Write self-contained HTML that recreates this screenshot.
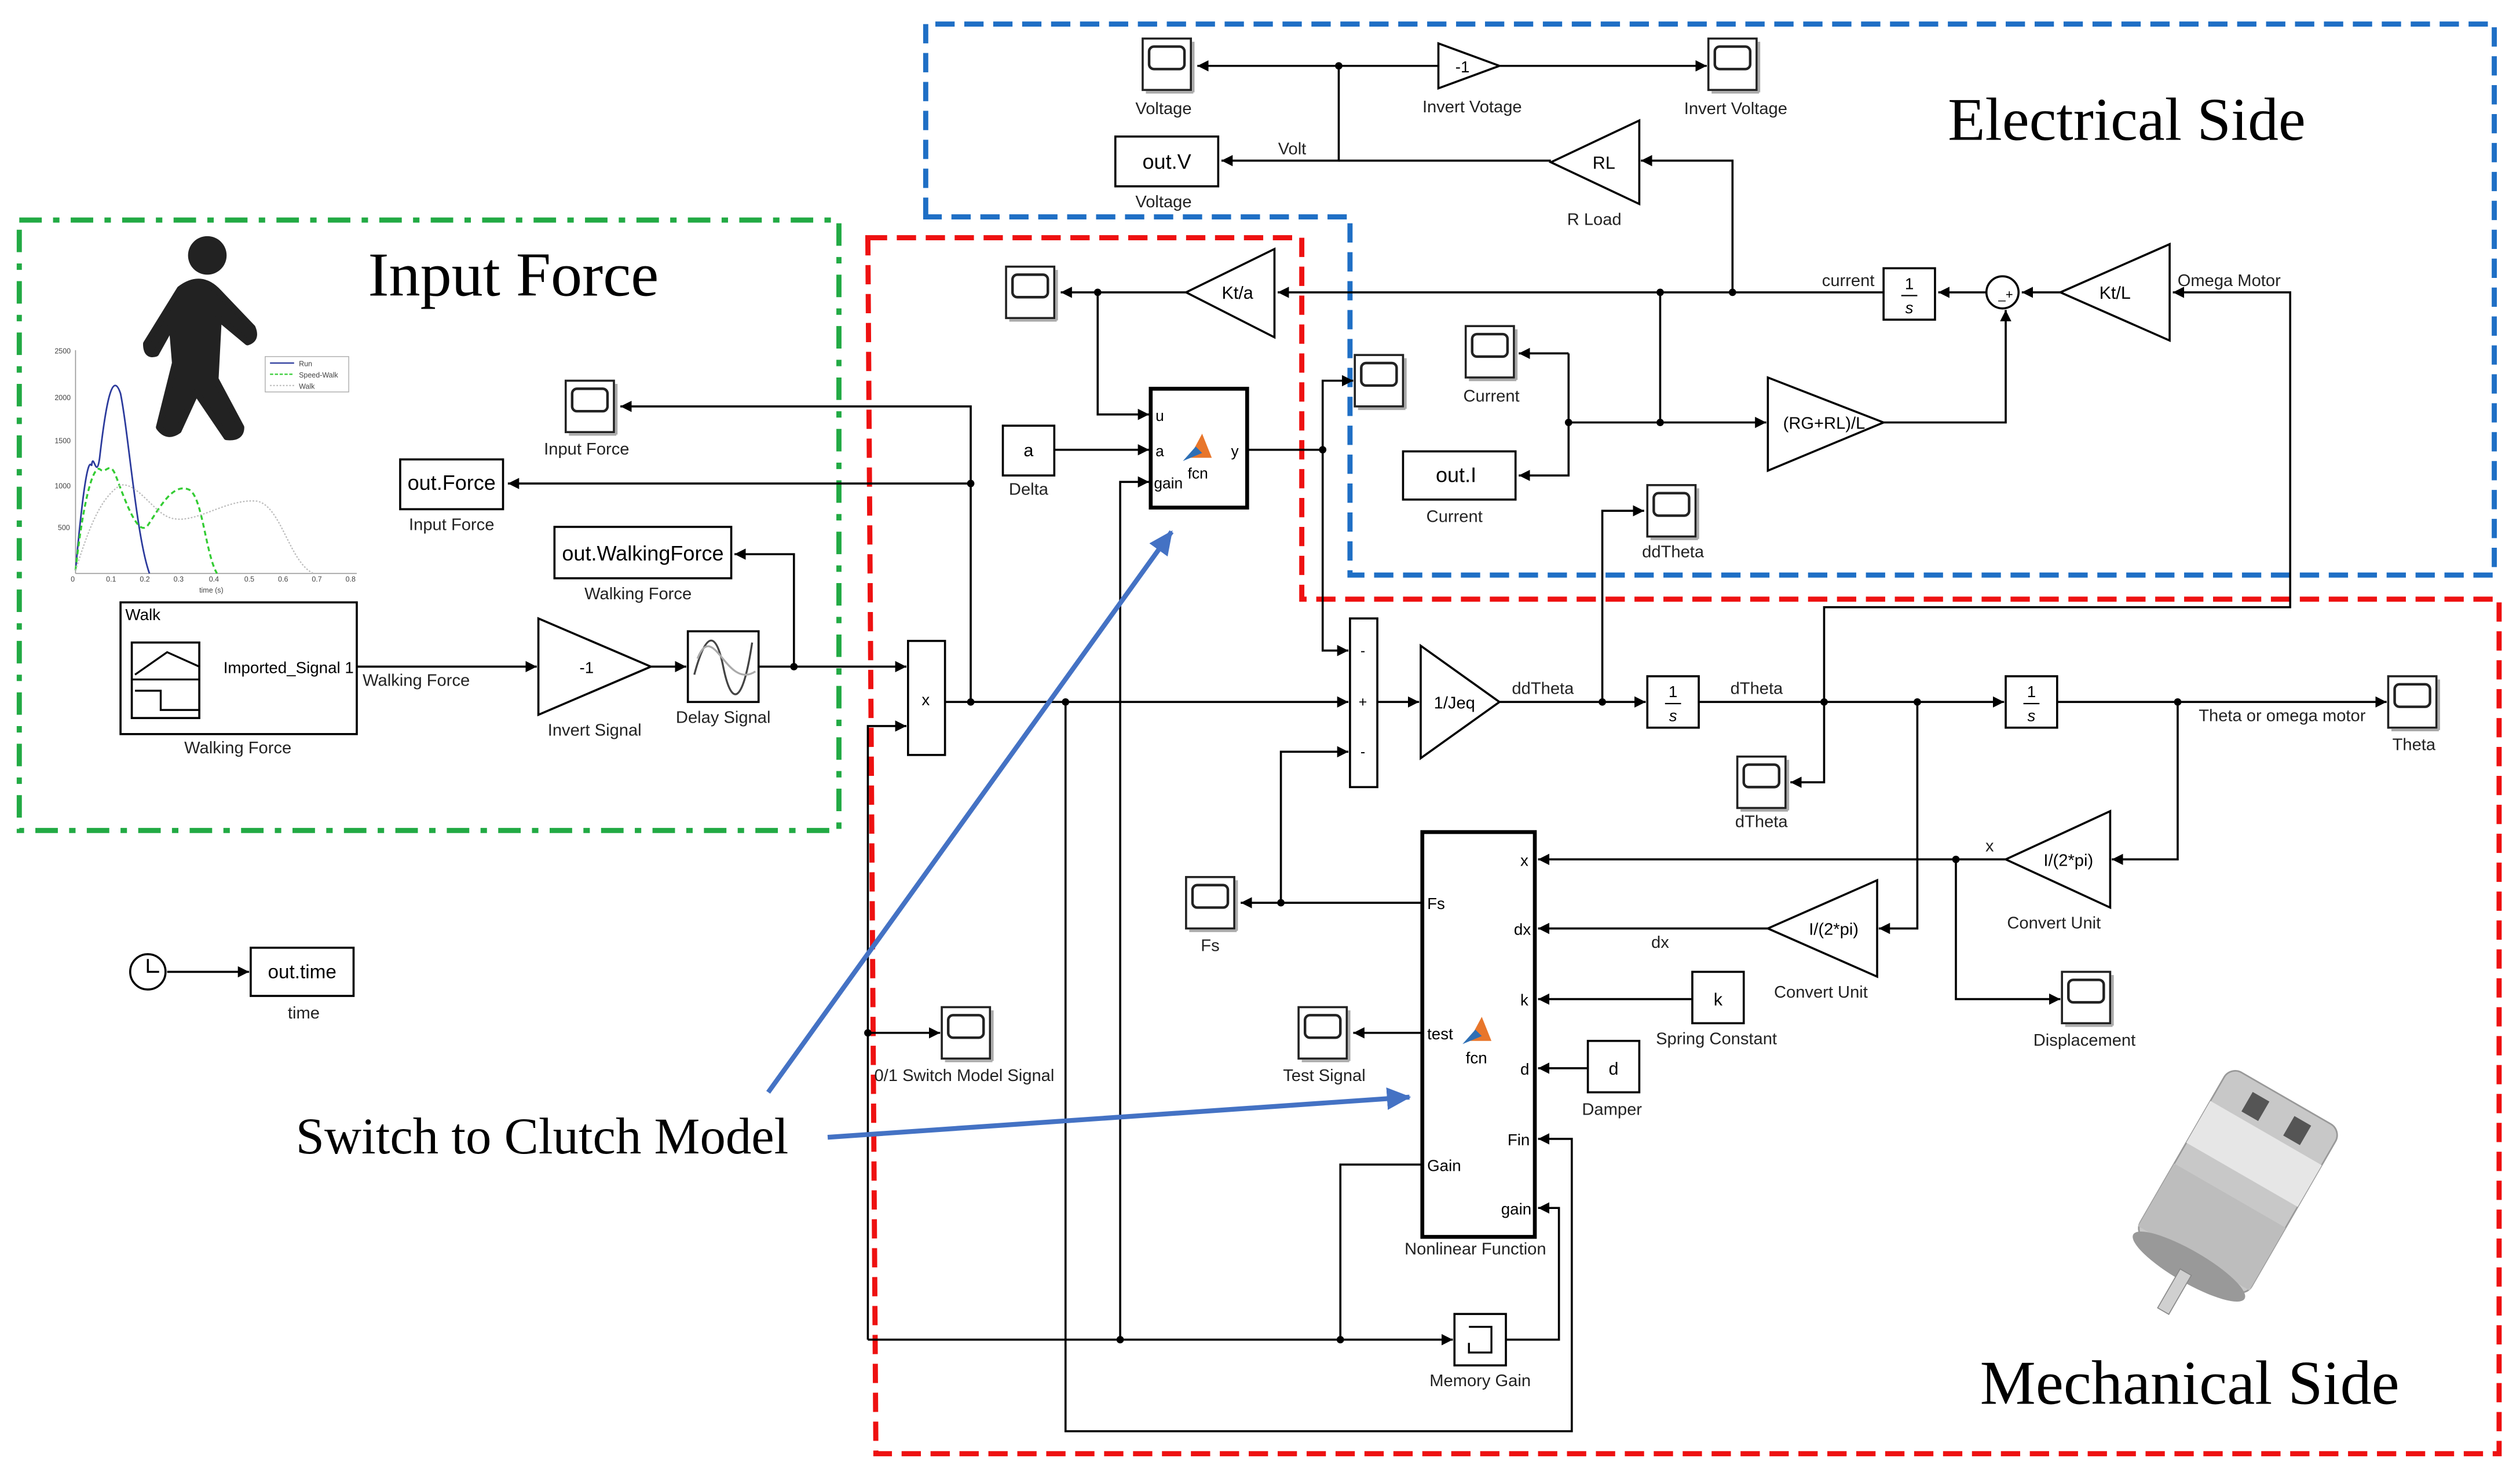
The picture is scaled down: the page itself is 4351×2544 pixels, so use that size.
<!DOCTYPE html>
<html><head><meta charset="utf-8"><style>html,body{margin:0;padding:0;background:#fff}svg{display:block}</style></head><body>
<svg width="4351" height="2544" viewBox="0 0 1568 917" preserveAspectRatio="none" xmlns="http://www.w3.org/2000/svg" font-family="Liberation Sans, sans-serif">
<defs>
<marker id="a" markerUnits="userSpaceOnUse" markerWidth="8" markerHeight="8" refX="7" refY="4" orient="auto"><path d="M0,0.5 L7,4 L0,7.5z" fill="#000"/></marker>
<marker id="b" markerUnits="userSpaceOnUse" markerWidth="16" markerHeight="14" refX="14" refY="7" orient="auto"><path d="M0,0 L15,7 L0,14z" fill="#4472c4"/></marker>
<g id="sc"><rect x="0" y="0" width="30" height="32" fill="#fff" stroke="#222" stroke-width="1.3"/><rect x="4" y="5" width="22" height="14" rx="3" fill="#fff" stroke="#222" stroke-width="1.6"/><line x1="2" y1="33.5" x2="31.5" y2="33.5" stroke="#aaa" stroke-width="1.5"/><line x1="31.5" y1="2" x2="31.5" y2="33.5" stroke="#aaa" stroke-width="1.5"/></g>
</defs>
<rect width="1568" height="917" fill="#fff"/>

<path d="M576,135 V15 H1552 V358 H840 V135 Z" fill="none" stroke="#1f6fc5" stroke-width="3.2" stroke-dasharray="12,6"/>
<path d="M540,148 H810 V373 H1555 V905 H545 Z" fill="none" stroke="#ee1111" stroke-width="3.2" stroke-dasharray="12,6"/>
<rect x="12" y="137" width="510" height="380" fill="none" stroke="#22aa44" stroke-width="3.2" stroke-dasharray="14,7,4,7"/>

<g font-family="Liberation Serif, serif" fill="#000">
<text x="1212" y="87" font-size="38">Electrical Side</text>
<text x="229" y="184" font-size="39">Input Force</text>
<text x="1232" y="874" font-size="39">Mechanical Side</text>
<text x="184" y="718" font-size="32">Switch to Clutch Model</text>
</g>

<g fill="none" stroke="#000" stroke-width="1.3">
<line x1="895" y1="41" x2="745" y2="41" marker-end="url(#a)"/>
<line x1="933" y1="41" x2="1062" y2="41" marker-end="url(#a)"/>
<polyline points="833,41 833,100 760,100" marker-end="url(#a)"/>
<line x1="965" y1="100" x2="833" y2="100"/>
<polyline points="1078,182 1078,100 1021,100" marker-end="url(#a)"/>
<line x1="1172" y1="182" x2="795" y2="182" marker-end="url(#a)"/>
<line x1="738" y1="182" x2="660" y2="182" marker-end="url(#a)"/>
<polyline points="683,182 683,258 715,258" marker-end="url(#a)"/>
<line x1="1236" y1="182" x2="1206" y2="182" marker-end="url(#a)"/>
<line x1="1282" y1="182" x2="1258" y2="182" marker-end="url(#a)"/>
<polyline points="1135,437 1135,378 1425,378 1425,182 1352,182" marker-end="url(#a)"/>
<polyline points="1033,182 1033,263"/>
<line x1="976" y1="263" x2="1099" y2="263" marker-end="url(#a)"/>
<polyline points="976,220 976,296 945,296" marker-end="url(#a)"/>
<line x1="976" y1="220" x2="945" y2="220" marker-end="url(#a)"/>
<polyline points="1172,263 1248,263 1248,193" marker-end="url(#a)"/>
<line x1="656" y1="280" x2="715" y2="280" marker-end="url(#a)"/>
<line x1="776" y1="280" x2="823" y2="280"/>
<polyline points="823,280 823,237 842,237" marker-end="url(#a)"/>
<polyline points="823,280 823,405 839,405" marker-end="url(#a)"/>
<line x1="222" y1="415" x2="334" y2="415" marker-end="url(#a)"/>
<line x1="405" y1="415" x2="427" y2="415" marker-end="url(#a)"/>
<line x1="472" y1="415" x2="564" y2="415" marker-end="url(#a)"/>
<polyline points="494,415 494,345 457,345" marker-end="url(#a)"/>
<polyline points="540,834 540,452 564,452" marker-end="url(#a)"/>
<line x1="588" y1="437" x2="839" y2="437" marker-end="url(#a)"/>
<polyline points="604,437 604,253 386,253" marker-end="url(#a)"/>
<line x1="604" y1="301" x2="316" y2="301" marker-end="url(#a)"/>
<polyline points="697,834 697,300 715,300" marker-end="url(#a)"/>
<polyline points="663,437 663,891 978,891 978,709 957,709" marker-end="url(#a)"/>
<line x1="540" y1="643" x2="585" y2="643" marker-end="url(#a)"/>
<line x1="540" y1="834" x2="904" y2="834" marker-end="url(#a)"/>
<polyline points="885,725 834,725 834,834"/>
<polyline points="937,834 970,834 970,752 957,752" marker-end="url(#a)"/>
<polyline points="885,562 772,562" marker-end="url(#a)"/>
<polyline points="797,562 797,468 839,468" marker-end="url(#a)"/>
<line x1="857" y1="437" x2="883" y2="437" marker-end="url(#a)"/>
<line x1="933" y1="437" x2="1024" y2="437" marker-end="url(#a)"/>
<polyline points="997,437 997,318 1023,318" marker-end="url(#a)"/>
<line x1="1057" y1="437" x2="1247" y2="437" marker-end="url(#a)"/>
<line x1="1280" y1="437" x2="1485" y2="437" marker-end="url(#a)"/>
<polyline points="1135,437 1135,487 1114,487" marker-end="url(#a)"/>
<polyline points="1355,437 1355,535 1314,535" marker-end="url(#a)"/>
<line x1="1248" y1="535" x2="957" y2="535" marker-end="url(#a)"/>
<polyline points="1217,535 1217,622 1282,622" marker-end="url(#a)"/>
<polyline points="1193,437 1193,578 1169,578" marker-end="url(#a)"/>
<line x1="1100" y1="578" x2="957" y2="578" marker-end="url(#a)"/>
<line x1="1053" y1="622" x2="957" y2="622" marker-end="url(#a)"/>
<line x1="988" y1="665" x2="957" y2="665" marker-end="url(#a)"/>
<line x1="885" y1="643" x2="842" y2="643" marker-end="url(#a)"/>
<line x1="104" y1="605" x2="155" y2="605" marker-end="url(#a)"/>
</g>
<g fill="#000">
<circle cx="833" cy="41" r="2.3"/><circle cx="683" cy="182" r="2.3"/><circle cx="1033" cy="182" r="2.3"/><circle cx="1078" cy="182" r="2.3"/>
<circle cx="976" cy="263" r="2.3"/><circle cx="1033" cy="263" r="2.3"/><circle cx="823" cy="280" r="2.3"/>
<circle cx="494" cy="415" r="2.3"/><circle cx="604" cy="437" r="2.3"/><circle cx="663" cy="437" r="2.3"/><circle cx="604" cy="301" r="2.3"/>
<circle cx="997" cy="437" r="2.3"/><circle cx="1135" cy="437" r="2.3"/><circle cx="1193" cy="437" r="2.3"/><circle cx="1355" cy="437" r="2.3"/>
<circle cx="1217" cy="535" r="2.3"/><circle cx="797" cy="562" r="2.3"/><circle cx="540" cy="643" r="2.3"/><circle cx="697" cy="834" r="2.3"/><circle cx="834" cy="834" r="2.3"/>
</g>

<g fill="#fff" stroke="#000" stroke-width="1.3">
<polygon points="895,27 933,41 895,55"/>
<polygon points="1020,75 1020,127 965,101"/>
<rect x="694" y="85" width="64" height="31"/>
<polygon points="793,155 793,210 738,182"/>
<rect x="1172" y="167" width="32" height="32"/>
<circle cx="1246" cy="182" r="10"/>
<polygon points="1350,152 1350,212 1282,182"/>
<polygon points="1100,235 1100,293 1172,263"/>
<rect x="873" y="281" width="70" height="30"/>
<rect x="716" y="242" width="60" height="74" stroke-width="2.4"/>
<rect x="624" y="265" width="32" height="31"/>
<rect x="75" y="375" width="147" height="82"/>
<rect x="82" y="400" width="42" height="47"/>
<polygon points="335,385 335,445 405,415"/>
<rect x="428" y="393" width="44" height="44"/>
<rect x="345" y="328" width="110" height="32"/>
<rect x="249" y="286" width="64" height="31"/>
<rect x="565" y="399" width="23" height="71"/>
<rect x="840" y="385" width="17" height="105"/>
<polygon points="884,402 884,472 933,437"/>
<rect x="1025" y="421" width="32" height="32"/>
<rect x="1248" y="421" width="32" height="32"/>
<polygon points="1313,505 1313,565 1248,535"/>
<polygon points="1168,548 1168,608 1100,578"/>
<rect x="1053" y="605" width="32" height="32"/>
<rect x="988" y="648" width="32" height="32"/>
<rect x="885" y="518" width="70" height="252" stroke-width="2.4"/>
<rect x="905" y="818" width="32" height="32"/>
<rect x="156" y="590" width="64" height="30"/>
<circle cx="92" cy="605" r="11"/>
</g>
<g fill="none" stroke="#000" stroke-width="1.2">
<line x1="82" y1="423" x2="124" y2="423"/>
<polyline points="84,420 104,406 124,415"/>
<polyline points="84,430 100,430 100,442 124,442"/>
<path d="M432,420 C440,390 446,395 450,415 C455,440 462,440 468,400" stroke="#444"/>
<path d="M434,410 C444,385 452,430 470,418" stroke="#aaa"/>
<polyline points="92,597 92,605 99,605"/>
<polyline points="914,826 928,826 928,842 914,842 914,836" />
</g>
<use href="#sc" x="711" y="24"/><use href="#sc" x="1063" y="24"/><use href="#sc" x="626" y="166"/>
<use href="#sc" x="843" y="221"/><use href="#sc" x="912" y="203"/><use href="#sc" x="1025" y="302"/>
<use href="#sc" x="352" y="237"/><use href="#sc" x="1486" y="421"/><use href="#sc" x="1081" y="471"/>
<use href="#sc" x="738" y="546"/><use href="#sc" x="586" y="627"/><use href="#sc" x="808" y="627"/><use href="#sc" x="1283" y="605"/>

<g font-size="11" fill="#000" text-anchor="middle">
<text x="910" y="45" font-size="10">-1</text>
<text x="998" y="105">RL</text>
<text x="726" y="105" font-size="13">out.V</text>
<text x="770" y="186">Kt/a</text>
<text x="1188" y="180" font-size="10">1</text><line x1="1183" y1="184" x2="1193" y2="184" stroke="#000" stroke-width="0.8"/><text x="1188" y="195" font-size="10" font-style="italic">s</text>
<text x="1248" y="186" font-size="8">_+</text>
<text x="1316" y="186">Kt/L</text>
<text x="1135" y="267" font-size="10.5">(RG+RL)/L</text>
<text x="906" y="300" font-size="13">out.I</text>
<text x="640" y="284">a</text>
<text x="400" y="349" font-size="13">out.WalkingForce</text>
<text x="281" y="305" font-size="13">out.Force</text>
<text x="365" y="419" font-size="10">-1</text>
<text x="576" y="439" font-size="10">x</text>
<text x="848" y="408" font-size="9">-</text><text x="848" y="440" font-size="9">+</text><text x="848" y="471" font-size="9">-</text>
<text x="905" y="441" font-size="10.5">1/Jeq</text>
<text x="1041" y="434" font-size="10">1</text><line x1="1036" y1="438" x2="1046" y2="438" stroke="#000" stroke-width="0.8"/><text x="1041" y="449" font-size="10" font-style="italic">s</text>
<text x="1264" y="434" font-size="10">1</text><line x1="1259" y1="438" x2="1269" y2="438" stroke="#000" stroke-width="0.8"/><text x="1264" y="449" font-size="10" font-style="italic">s</text>
<text x="1287" y="539" font-size="10.5">I/(2*pi)</text>
<text x="1141" y="582" font-size="10.5">I/(2*pi)</text>
<text x="1069" y="626">k</text>
<text x="1004" y="669">d</text>
<text x="188" y="609" font-size="12">out.time</text>
</g>
<g font-size="10" fill="#000">
<text x="78" y="386">Walk</text>
<text x="139" y="419">Imported_Signal 1</text>
<text x="719" y="262" font-size="9.5">u</text><text x="719" y="284" font-size="9.5">a</text><text x="718" y="304" font-size="9.5">gain</text>
<text x="766" y="284" font-size="9.5">y</text><text x="739" y="298" font-size="9.5">fcn</text>
<text x="888" y="566">Fs</text><text x="888" y="647">test</text><text x="888" y="729">Gain</text>
<text x="946" y="539">x</text><text x="942" y="582">dx</text><text x="946" y="626">k</text><text x="946" y="669">d</text><text x="938" y="713">Fin</text><text x="934" y="756">gain</text>
<text x="912" y="662">fcn</text>
</g>
<path d="M740,285 L748,270 L754,285 Z" fill="#e8762b"/><path d="M736,287 L744,278 L748,282 Z" fill="#2d6fb5"/>
<path d="M914,648 L922,633 L928,648 Z" fill="#e8762b"/><path d="M910,650 L918,641 L922,645 Z" fill="#2d6fb5"/>

<g font-size="10.5" fill="#222" text-anchor="middle">
<text x="724" y="71">Voltage</text><text x="1080" y="71">Invert Voltage</text><text x="916" y="70">Invert Votage</text>
<text x="724" y="129">Voltage</text><text x="804" y="96">Volt</text><text x="992" y="140">R Load</text>
<text x="1150" y="178">current</text><text x="1387" y="178">Omega Motor</text>
<text x="928" y="250">Current</text><text x="905" y="325">Current</text><text x="1041" y="347">ddTheta</text>
<text x="640" y="308">Delta</text><text x="365" y="283">Input Force</text><text x="281" y="330">Input Force</text>
<text x="397" y="373">Walking Force</text><text x="259" y="427">Walking Force</text><text x="148" y="469">Walking Force</text>
<text x="370" y="458">Invert Signal</text><text x="450" y="450">Delay Signal</text>
<text x="960" y="432">ddTheta</text><text x="1093" y="432">dTheta</text><text x="1420" y="449">Theta or omega motor</text>
<text x="1502" y="467">Theta</text><text x="1096" y="515">dTheta</text><text x="1238" y="530">x</text>
<text x="1278" y="578">Convert Unit</text><text x="1133" y="621">Convert Unit</text><text x="1033" y="590">dx</text>
<text x="1068" y="650">Spring Constant</text><text x="1297" y="651">Displacement</text><text x="1003" y="694">Damper</text>
<text x="753" y="592">Fs</text><text x="600" y="673">0/1 Switch Model Signal</text><text x="824" y="673">Test Signal</text>
<text x="918" y="781">Nonlinear Function</text><text x="921" y="863">Memory Gain</text><text x="189" y="634">time</text>
</g>

<line x1="478" y1="680" x2="729" y2="331" stroke="#4472c4" stroke-width="3" marker-end="url(#b)"/>
<line x1="515" y1="708" x2="877" y2="683" stroke="#4472c4" stroke-width="3" marker-end="url(#b)"/>

<g fill="#222" stroke="#222" stroke-width="4" stroke-linejoin="round">
<circle cx="129" cy="159" r="12" stroke="none"/>
<path d="M112,180 Q125,170 136,182 L157,204 Q160,211 154,213 L136,198 L134,236 L150,266 Q150,273 141,272 L122,244 L111,268 Q104,273 99,266 L109,226 L107,202 L97,220 Q91,222 91,214 Z"/>
</g>
<g font-size="4.5" fill="#444">
<line x1="47" y1="218" x2="47" y2="357" stroke="#999" stroke-width="0.6"/>
<line x1="47" y1="357" x2="222" y2="357" stroke="#999" stroke-width="0.6"/>
<text x="34" y="220">2500</text><text x="34" y="249">2000</text><text x="34" y="276">1500</text><text x="34" y="304">1000</text><text x="36" y="330">500</text>
<text x="44" y="362">0</text><text x="66" y="362">0.1</text><text x="87" y="362">0.2</text><text x="108" y="362">0.3</text><text x="130" y="362">0.4</text><text x="152" y="362">0.5</text><text x="173" y="362">0.6</text><text x="194" y="362">0.7</text><text x="215" y="362">0.8</text>
<text x="124" y="369">time (s)</text>
<rect x="165" y="222" width="52" height="22" fill="#fff" stroke="#aaa" stroke-width="0.5"/>
<text x="186" y="228">Run</text><text x="186" y="235">Speed-Walk</text><text x="186" y="242">Walk</text>
</g>
<line x1="168" y1="226" x2="183" y2="226" stroke="#2b3a9c" stroke-width="0.8"/>
<line x1="168" y1="233" x2="183" y2="233" stroke="#3c3" stroke-width="0.8" stroke-dasharray="2,1"/>
<line x1="168" y1="240" x2="183" y2="240" stroke="#bbb" stroke-width="0.8" stroke-dasharray="1,1"/>
<path d="M47,355 C52,300 55,285 57,290 C58,280 60,300 62,285 C66,250 70,230 75,245 C80,270 85,335 93,357" fill="none" stroke="#2b3a9c" stroke-width="1"/>
<path d="M47,355 C52,310 58,290 62,292 C66,296 68,286 72,296 C78,312 86,335 92,327 C100,315 108,300 118,305 C126,310 128,345 135,357" fill="none" stroke="#3c3" stroke-width="1.2" stroke-dasharray="3,2"/>
<path d="M47,355 C55,330 62,310 75,302 C85,300 95,318 105,322 C120,328 140,310 160,312 C175,315 180,350 195,357" fill="none" stroke="#bbb" stroke-width="0.8" stroke-dasharray="1,1"/>

<g transform="rotate(30 1390 740)">
<rect x="1350" y="675" width="80" height="120" rx="8" fill="#c8c8c8" stroke="#999"/>
<rect x="1350" y="700" width="80" height="30" fill="#e6e6e6"/>
<rect x="1350" y="745" width="80" height="45" fill="#bdbdbd"/>
<ellipse cx="1390" cy="796" rx="40" ry="10" fill="#999"/>
<rect x="1386" y="800" width="8" height="28" fill="#d0d0d0" stroke="#888" stroke-width="0.6"/>
<rect x="1370" y="682" width="12" height="14" fill="#555"/>
<rect x="1400" y="682" width="12" height="14" fill="#555"/>
</g>
</svg>
</body></html>
